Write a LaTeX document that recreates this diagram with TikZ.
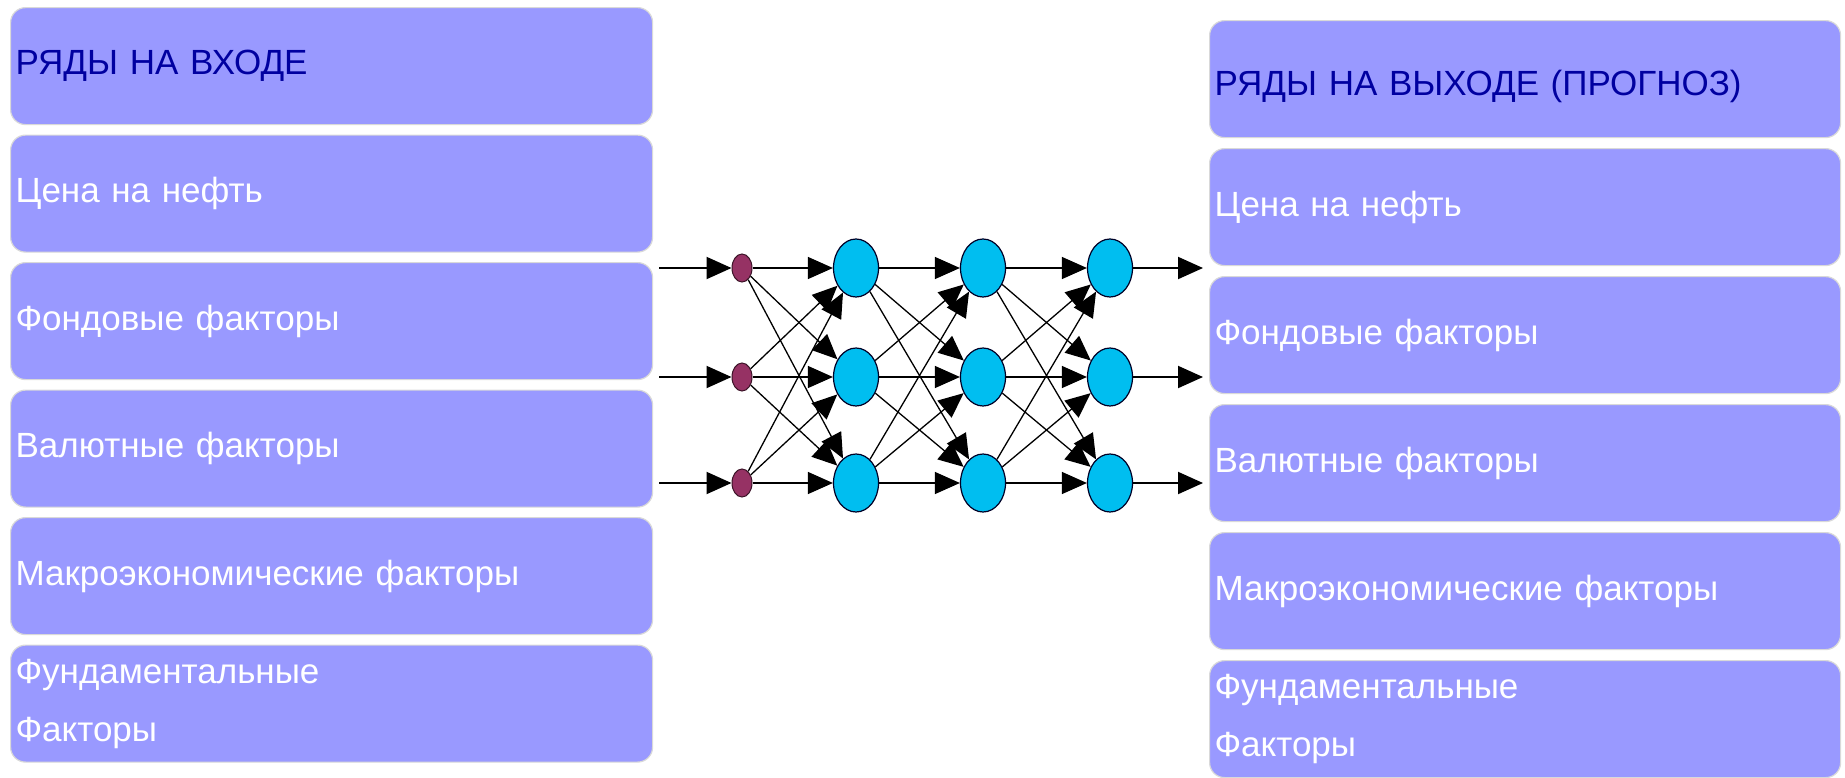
\documentclass[tikz,border=0pt]{standalone}
\usepackage{fontspec}
\setmainfont{Liberation Sans}
\usetikzlibrary{arrows.meta,shapes.geometric,positioning}
\definecolor{boxfill}{RGB}{153,153,255}
\definecolor{titleblue}{RGB}{0,0,160}
\definecolor{neuronfill}{RGB}{0,190,240}
\definecolor{dotfill}{RGB}{150,50,100}
\tikzset{
  factor/.style={draw=gray!30, line width=1.2pt, fill=boxfill, rounded corners=15pt,
    anchor=north west, inner xsep=5pt, inner ysep=0pt, text width=#1,
    minimum height=117pt, align=left, text=white,
    font=\fontsize{35}{58}\selectfont},
  neuron/.style={ellipse, draw=black!85!blue, line width=1.2pt, fill=neuronfill,
    minimum width=45pt, minimum height=58pt, inner sep=0pt},
  inputdot/.style={ellipse, draw=black!60!dotfill, line width=1pt, fill=dotfill,
    minimum width=20pt, minimum height=28pt, inner sep=0pt},
  link/.style={-{Triangle[length=25pt,width=22pt]}, line width=1.3pt},
}
\begin{document}
\begin{tikzpicture}[x=1pt,y=-1pt]
  \useasboundingbox (0,0) rectangle (1845,777);

  % input series
  \foreach \s/\v[count=\i] in {1/РЯДЫ НА ВХОДЕ, 0/Цена на нефть, 0/Фондовые факторы,
      0/Валютные факторы, 0/Макроэкономические факторы, 0/{Фундаментальные\\Факторы}}{
    \if\s1
    \node[factor=632pt, text=titleblue] (lbox\i) at (10,{7+127.5*(\i-1)}) {\v};
    \else
    \node[factor=632pt] (lbox\i) at (10,{7+127.5*(\i-1)}) {\v};
    \fi
  }

  % output series
  \foreach \s/\v[count=\i] in {1/РЯДЫ НА ВЫХОДЕ (ПРОГНОЗ), 0/Цена на нефть, 0/Фондовые факторы,
      0/Валютные факторы, 0/Макроэкономические факторы, 0/{Фундаментальные\\Факторы}}{
    \if\s1
    \node[factor=621pt, text=titleblue, text height=40pt] (rbox\i) at (1209,{20+128*(\i-1)}) {\v};
    \else
    \node[factor=621pt] (rbox\i) at (1209,{20+128*(\i-1)}) {\v};
    \fi
  }

  % network
  \foreach \y[count=\r] in {268,377,483}{
    \coordinate (in\r) at (659,\y);
    \node[inputdot] (d\r) at (742,\y) {};
    \foreach \x[count=\l] in {856,983,1110}
      \node[neuron] (n\l\r) at (\x,\y) {};
    \coordinate (out\r) at (1203,\y);
  }

  \foreach \r in {1,2,3}{
    \draw[link, line width=2pt] (in\r) -- (d\r);
    \draw[link, line width=2pt] (n3\r) -- (out\r);
    \foreach \t in {1,2,3}{
      \draw[link] (d\r) -- (n1\t);
      \draw[link] (n1\r) -- (n2\t);
      \draw[link] (n2\r) -- (n3\t);
    }
  }

\end{tikzpicture}
\end{document}
